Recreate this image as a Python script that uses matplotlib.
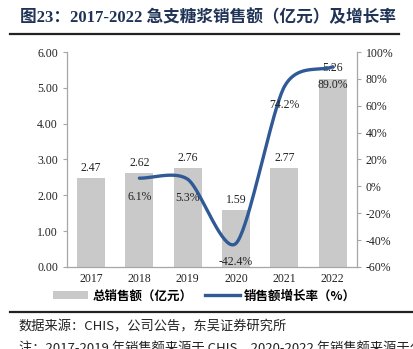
import numpy as np
import matplotlib
matplotlib.use("Agg")
import matplotlib.pyplot as plt
from matplotlib.lines import Line2D
from matplotlib.patches import Patch

# ---- data -------------------------------------------------------------
years = ["2017", "2018", "2019", "2020", "2021", "2022"]
sales = [2.47, 2.62, 2.76, 1.59, 2.77, 5.26]          # 亿元
growth_years = ["2018", "2019", "2020", "2021", "2022"]
growth = [6.1, 5.3, -42.4, 74.2, 89.0]                # %
left_ticks = [0, 1, 2, 3, 4, 5, 6]
right_ticks = [-60, -40, -20, 0, 20, 40, 60, 80, 100]

BAR_GRAY = "#C9C9C9"
LINE_BLUE = "#2F5A95"
SPINE_GRAY = "#A6A6A6"
TITLE_NAVY = "#1F3356"

SERIF = ["Liberation Serif", "Noto Sans CJK SC"]
CJK = ["Noto Sans CJK SC", "DejaVu Sans"]


def smooth(x, y, n=40, tension=0.8):
    """Cardinal spline through the points, like an office 'smoothed line'."""
    x = np.asarray(x, float); y = np.asarray(y, float)
    px = np.concatenate([[2 * x[0] - x[1]], x, [2 * x[-1] - x[-2]]])
    py = np.concatenate([[2 * y[0] - y[1]], y, [2 * y[-1] - y[-2]]])
    t = np.linspace(0, 1, n)
    h00 = 2 * t**3 - 3 * t**2 + 1
    h10 = t**3 - 2 * t**2 + t
    h01 = -2 * t**3 + 3 * t**2
    h11 = t**3 - t**2
    xs, ys = [], []
    for i in range(1, len(px) - 2):
        for p, out in ((px, xs), (py, ys)):
            m1 = tension * 0.5 * (p[i + 1] - p[i - 1])
            m2 = tension * 0.5 * (p[i + 2] - p[i])
            out.extend(h00 * p[i] + h10 * m1 + h01 * p[i + 1] + h11 * m2)
    return np.array(xs), np.array(ys)


plt.rcParams["font.family"] = SERIF
fig = plt.figure(figsize=(4.13, 3.49), dpi=100, facecolor="white")
ax = fig.add_axes([0.162, 0.235, 0.702, 0.616])
ax2 = ax.twinx()

x = np.arange(len(years))
ax.bar(x, sales, width=0.58, color=BAR_GRAY, zorder=1)
for xi, v in zip(x, sales):
    ax.annotate(f"{v:.2f}", (xi, v), xytext=(0, 3), textcoords="offset points",
                ha="center", va="bottom", fontsize=8.5, color="#222222")

ax.set_xlim(-0.5, len(years) - 0.5)
ax.set_ylim(0, 6)
ax.set_yticks(left_ticks)
ax.set_yticklabels([f"{t:.2f}" for t in left_ticks])
ax.set_xticks(x)
ax.set_xticklabels(years)

gx = np.array([years.index(yr) for yr in growth_years])
sx, sy = smooth(gx, growth)
ax2.plot(sx, sy, color=LINE_BLUE, linewidth=2.4, solid_capstyle="round", zorder=3)
for xi, v in zip(gx, growth):
    ax2.annotate(f"{v:.1f}%", (xi, v), xytext=(0, -9), textcoords="offset points",
                 ha="center", va="top", fontsize=8.5, color="#222222")
ax2.set_ylim(-60, 100)
ax2.set_yticks(right_ticks)
ax2.set_yticklabels([f"{t}%" for t in right_ticks])

for a in (ax, ax2):
    a.tick_params(labelsize=8.5, colors="#222222", length=3, width=0.8)
    a.tick_params(axis="y", color=SPINE_GRAY)
    for s in a.spines.values():
        s.set_visible(False)
ax.tick_params(axis="x", length=0, pad=4)
ax.spines["left"].set_visible(True)
ax.spines["bottom"].set_visible(True)
ax2.spines["right"].set_visible(True)
for s in (ax.spines["left"], ax.spines["bottom"], ax2.spines["right"]):
    s.set_color(SPINE_GRAY)
    s.set_linewidth(0.9)

# legend below the axes
handles = [Patch(facecolor=BAR_GRAY, edgecolor="none"),
           Line2D([], [], color=LINE_BLUE, linewidth=2.4)]
fig.legend(handles, ["总销售额（亿元）", "销售额增长率（%）"],
           loc="center", bbox_to_anchor=(0.495, 0.152), ncol=2, frameon=False,
           prop={"family": CJK, "size": 9, "weight": "bold"},
           handlelength=2.8, handleheight=0.6, columnspacing=1.0,
           handletextpad=0.3)

# title, rules, source notes
fig.text(0.048, 0.948, "图23：2017-2022 急支糖浆销售额（亿元）及增长率",
         ha="left", va="center", fontsize=12, fontweight="bold",
         color=TITLE_NAVY, family=SERIF)
fig.add_artist(Line2D([0.024, 0.965], [0.903, 0.903], color="#222222", linewidth=1.6))
fig.add_artist(Line2D([0.024, 1.0], [0.106, 0.106], color="#222222", linewidth=1.6))
fig.text(0.045, 0.063, "数据来源：CHIS，公司公告，东吴证券研究所",
         ha="left", va="center", fontsize=9.5, family=CJK, color="#222222")
fig.text(0.045, 0.0, "注：2017-2019 年销售额来源于 CHIS，2020-2022 年销售额来源于公司公告",
         ha="left", va="center", fontsize=9.5, family=CJK, color="#222222")

fig.savefig("out.png", dpi=100, facecolor="white")
